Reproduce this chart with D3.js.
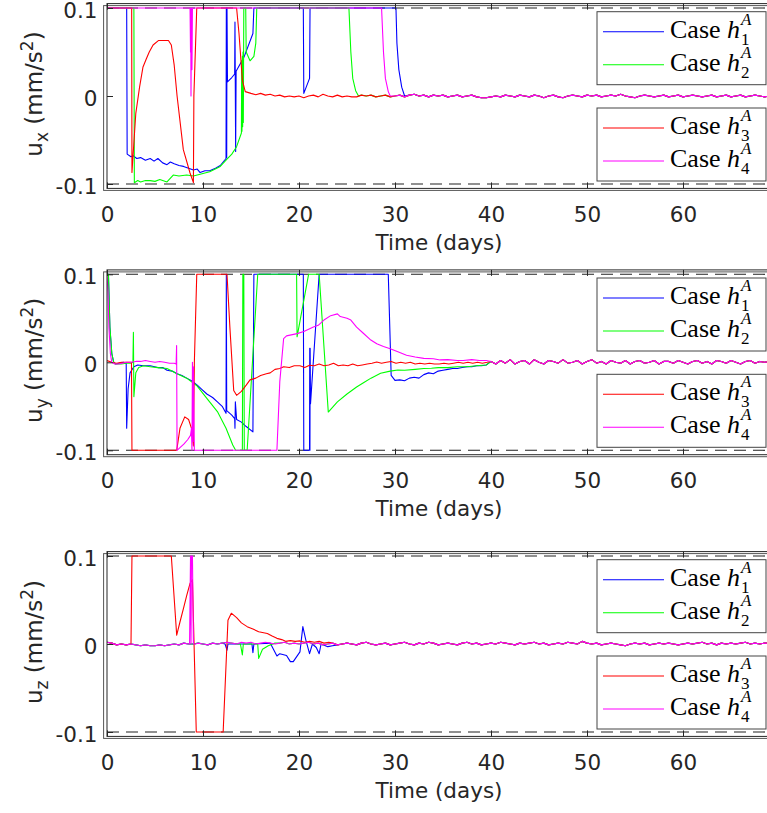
<!DOCTYPE html>
<html>
<head>
<meta charset="utf-8">
<script src="https://cdn.jsdelivr.net/npm/d3@7/dist/d3.min.js"></script>
<style>
body { margin: 0; background: #fff; }
svg { display: block; }
</style>
</head>
<body>
<div id="chart"></div>
<script>
// ---- data ----
var xTicks = [0, 10, 20, 30, 40, 50, 60];
var yTicks = [-0.1, 0, 0.1];
var yTickLabels = ["-0.1", "0", "0.1"];
var caseIndex = ["1", "2", "3", "4"];
var caseColors = ["#0000ff", "#00ff00", "#ff0000", "#ff00ff"];
var axisNames = ["x", "y", "z"];

// u_x : own part of each case, then the common converged tail
var uxBlue = [[0,0.1],[2.05,0.1],[2.1,-0.066],[2.5,-0.069],[2.75,-0.068],[3.1,-0.071],[3.5,-0.070],[4.0,-0.073],[4.5,-0.071],[4.9,-0.074],[5.3,-0.071],[5.8,-0.076],[6.25,-0.078],[6.6,-0.075],[7.0,-0.077],[7.5,-0.079],[7.97,-0.080],[8.5,-0.082],[9.0,-0.084],[9.4,-0.083],[9.7,-0.087],[10.2,-0.085],[10.7,-0.085],[11.3,-0.082],[11.8,-0.079],[12.4,-0.071],[12.43,0.1],[12.47,-0.07],[12.5,0.1],[12.55,0.016],[13.0,0.021],[13.3,0.025],[13.33,0.084],[13.4,-0.063],[13.45,0.028],[14.3,0.045],[15.2,0.071],[15.3,0.1],[20.45,0.1],[20.5,0.003],[21.1,0.02],[21.15,0.1],[30.1,0.1],[30.2,0.06],[30.4,0.03],[30.7,0.01],[31.0,0.0]];
var uxGreen = [[0,0.1],[2.8,0.1],[2.85,-0.0985],[3.2,-0.096],[3.5,-0.0977],[4.0,-0.096],[4.5,-0.0962],[5.0,-0.097],[5.5,-0.095],[6.25,-0.0977],[6.9,-0.0898],[7.5,-0.091],[8.3,-0.0898],[9.0,-0.091],[9.7,-0.089],[10.7,-0.086],[11.8,-0.080],[12.4,-0.073],[13.0,-0.066],[13.5,-0.0576],[14.0,-0.042],[14.03,0.04],[14.06,-0.04],[14.1,0.045],[14.13,-0.035],[14.17,0.05],[14.2,-0.03],[14.25,0.1],[14.45,0.1],[14.5,0.05],[14.9,0.04],[15.3,0.045],[15.5,0.06],[15.6,0.1],[25.2,0.1],[25.4,0.05],[25.6,0.02],[25.9,0.006],[26.2,0.0]];
var uxRed = [[0,0.1],[2.57,0.1],[2.6,-0.087],[3.0,-0.0197],[3.4,0.0106],[3.75,0.033],[4.1,0.0424],[4.4,0.050],[4.8,0.058],[5.35,0.063],[6.4,0.063],[6.7,0.058],[7.0,0.035],[7.3,0.0],[7.95,-0.061],[8.65,-0.0875],[9.0,-0.0985],[9.05,0.0],[9.35,0.1],[13.5,0.1],[13.75,0.071],[14.1,0.018],[14.4,0.005],[15.0,0.003],[15.5,0.0015],[16.0,0.003],[16.5,0.001],[17.0,0.002],[17.5,0.0],[18.0,0.001],[18.5,-0.001],[19.0,0.0],[19.5,-0.001],[20.0,0.0],[20.5,-0.002],[21.0,0.0],[21.5,0.001],[22.0,-0.001],[22.5,0.002],[23.0,0.0],[23.5,-0.001],[24.0,0.001],[24.5,-0.001],[25.0,0.0],[25.5,-0.001]];
var uxMagenta = [[0,0.1],[8.65,0.1],[8.7,0.05],[8.72,0.1],[8.75,0.0],[8.8,0.1],[8.85,0.03],[8.9,0.1],[28.6,0.1],[28.8,0.05],[29.0,0.02],[29.3,0.005],[29.5,0.0]];
// converged tail, every 0.5 day from day 26
var uxTail = [-0.001,0.001,0.000,0.001,-0.001,0.000,0.001,-0.001,0.000,0.001,-0.001,0.001,0.002,0.000,0.001,-0.001,0.001,0.000,0.001,-0.001,0.000,0.001,-0.001,0.000,0.001,-0.001,-0.002,-0.002,-0.001,0.000,-0.001,0.001,0.000,-0.001,0.001,0.000,-0.001,0.001,0.000,-0.002,0.000,0.001,-0.001,-0.002,0.000,0.001,0.000,-0.001,0.001,0.000,0.001,-0.001,0.000,0.001,0.000,0.002,0.000,-0.001,-0.002,0.000,0.001,0.000,-0.001,0.000,0.001,-0.001,0.000,0.001,-0.001,0.000,0.001,0.000,-0.001,0.000,0.001,-0.001,0.000,0.001,-0.001,0.000,0.001,-0.001,0.000,0.001,0.000,-0.001,0.000];

// u_y
var uyBlue = [[0,0.1],[0.15,0.1],[0.3,0.04],[0.5,0.01],[0.7,0.0],[0.9,-0.002],[1.3,-0.001],[1.7,0.0],[2.0,-0.001],[2.05,-0.075],[2.2,-0.03],[2.4,-0.012],[2.8,-0.005],[3.2,-0.003],[3.8,-0.004],[4.5,-0.004],[5.3,-0.006],[5.8,-0.006],[6.25,-0.009],[6.8,-0.010],[7.3,-0.013],[7.8,-0.015],[8.3,-0.018],[8.8,-0.021],[9.4,-0.026],[9.9,-0.031],[10.4,-0.036],[11.0,-0.040],[11.5,-0.045],[12.0,-0.050],[12.4,-0.058],[12.43,0.1],[12.47,-0.055],[13.0,-0.060],[13.3,-0.064],[13.33,-0.075],[13.37,-0.045],[13.5,-0.065],[14.0,-0.068],[14.5,-0.073],[15.2,-0.079],[15.3,0.1],[20.45,0.1],[20.5,-0.1],[21.1,-0.1],[21.12,0.016],[21.14,-0.1],[21.16,0.016],[21.2,-0.047],[22.1,0.1],[29.3,0.1],[29.6,-0.0148],[30.0,-0.0205],[30.5,-0.020],[31.0,-0.021],[31.5,-0.018],[32.0,-0.017],[32.5,-0.018],[33.0,-0.014],[33.5,-0.012],[34.0,-0.013],[34.5,-0.010],[35.0,-0.009],[35.5,-0.008],[36.0,-0.007],[36.5,-0.007],[37.0,-0.006],[37.5,-0.005],[38.0,-0.005],[38.5,-0.004],[39.0,-0.004],[39.5,-0.003]];
var uyGreen = [[0,0.1],[0.15,0.1],[0.3,0.04],[0.5,0.01],[0.7,0.0],[0.9,-0.002],[1.5,-0.002],[2.0,-0.001],[2.5,-0.001],[2.7,0.0],[2.75,0.034],[2.8,-0.039],[3.0,-0.012],[3.3,-0.006],[3.8,-0.004],[4.5,-0.005],[5.3,-0.006],[6.25,-0.007],[7.3,-0.013],[8.3,-0.018],[9.4,-0.027],[10.4,-0.041],[11.5,-0.056],[12.4,-0.075],[13.1,-0.094],[13.4,-0.1],[14.1,-0.1],[14.15,0.1],[14.25,0.1],[14.3,-0.1],[14.6,-0.1],[15.7,0.1],[19.75,0.1],[19.8,0.029],[21.0,0.1],[22.1,0.1],[23.05,-0.0565],[24.0,-0.045],[25.0,-0.036],[26.0,-0.028],[26.8,-0.0227],[27.5,-0.018],[28.5,-0.0125],[29.5,-0.010],[30.3,-0.0087],[31.0,-0.009],[32.1,-0.008],[33.0,-0.007],[33.8,-0.0068],[34.5,-0.006],[35.5,-0.006],[36.5,-0.005],[37.5,-0.005],[38.5,-0.004],[39.5,-0.003]];
var uyRed = [[0,0.002],[0.5,0.0],[1.0,-0.001],[1.5,0.0],[2.0,0.0],[2.55,0.0],[2.6,-0.1],[7.26,-0.1],[7.6,-0.075],[8.1,-0.062],[8.5,-0.065],[8.8,-0.075],[9.0,-0.095],[9.1,0.0],[9.35,0.1],[12.5,0.1],[12.8,0.04],[13.2,-0.032],[13.5,-0.0375],[14.0,-0.033],[14.5,-0.026],[14.9,-0.020],[15.5,-0.018],[16.0,-0.015],[16.6,-0.013],[17.0,-0.012],[17.5,-0.008],[18.0,-0.007],[18.4,-0.005],[19.0,-0.006],[19.5,-0.004],[20.1,-0.004],[20.6,-0.006],[21.1,-0.0034],[21.6,-0.004],[22.1,-0.002],[22.6,-0.004],[23.1,-0.003],[23.6,-0.001],[24.1,-0.004],[24.6,-0.003],[25.1,-0.004],[25.6,-0.002],[26.1,-0.004],[26.6,-0.003],[27.1,-0.002],[27.6,-0.001],[28.1,0.0004],[28.6,-0.001],[29.1,0.0],[29.6,0.001],[30.1,-0.001],[30.6,0.0],[31.1,-0.001],[31.6,0.0],[32.1,-0.002],[32.6,-0.001],[33.1,-0.002],[33.6,-0.001],[34.1,-0.002],[34.6,-0.002],[35.1,-0.001],[35.6,-0.002],[36.1,-0.001],[36.6,0.0],[37.1,-0.001],[37.6,0.0],[38.1,-0.001],[38.6,0.0],[39.1,-0.001],[39.6,0.0]];
var uyMagenta = [[0,0.1],[0.1,0.08],[0.2,0.04],[0.35,0.01],[0.5,0.0],[0.8,-0.002],[1.2,-0.002],[1.6,-0.001],[2.0,0.0],[2.5,0.0],[3.0,0.001],[3.5,0.001],[4.0,0.002],[4.5,0.001],[5.0,0.0],[5.5,0.001],[6.0,0.0],[6.5,-0.001],[7.0,-0.001],[7.2,-0.002],[7.25,0.019],[7.3,-0.1],[7.6,-0.097],[8.0,-0.093],[8.4,-0.088],[8.7,-0.083],[8.8,-0.075],[8.85,-0.1],[8.9,0.0],[8.95,-0.09],[9.0,-0.005],[9.1,-0.1],[17.7,-0.1],[18.0,-0.022],[18.4,0.027],[18.7,0.03],[19.8,0.0326],[20.5,0.035],[21.5,0.040],[22.0,0.042],[22.6,0.048],[23.3,0.053],[24.0,0.055],[24.3,0.052],[25.0,0.050],[25.4,0.048],[26.0,0.040],[26.7,0.033],[27.4,0.026],[28.1,0.021],[28.8,0.018],[29.5,0.0155],[30.3,0.012],[31.2,0.008],[32.1,0.006],[33.0,0.0045],[34.0,0.004],[34.7,0.0027],[35.5,0.003],[36.5,0.002],[37.1,0.002],[38.0,0.003],[38.8,0.002],[39.5,0.002]];
// converged tail, every 0.5 day from day 40
var uyTail = [0.001,-0.002,0.002,-0.001,0.003,-0.002,0.001,0.002,-0.002,0.003,0.000,-0.002,0.002,0.001,-0.001,0.003,-0.001,0.000,0.002,-0.002,0.001,0.003,-0.001,0.001,-0.002,0.002,0.000,-0.001,0.002,-0.002,0.001,0.002,-0.001,0.000,0.002,-0.002,0.001,0.001,-0.001,0.002,0.000,-0.002,0.001,0.002,-0.001,0.001,-0.002,0.002,0.001,-0.001,0.002,0.000,-0.002,0.001,0.002,-0.001,0.001,0.000,0.001,0.000];

// u_z : shared near-zero trace every 0.5 day from day 0, each case overrides a window
var uzBase = [0.002,0.001,-0.001,0.000,-0.001,0.000,-0.001,-0.002,-0.001,-0.002,-0.002,-0.001,-0.002,-0.001,0.000,-0.001,0.001,0.000,0.000,0.001,
  0.000,-0.001,0.001,0.000,0.001,0.002,0.001,0.000,0.002,0.001,0.002,0.000,0.001,0.002,0.001,0.000,0.001,0.002,0.000,0.001,
  0.000,0.001,0.002,0.000,0.001,-0.001,0.000,0.001,-0.001,0.000,0.001,0.000,-0.001,0.001,0.002,0.000,-0.001,0.000,0.001,-0.001,
  0.000,0.001,0.002,0.000,-0.001,0.001,0.000,0.002,0.001,-0.001,0.000,0.001,0.000,-0.001,0.001,0.002,0.000,0.001,-0.001,0.000,
  0.001,0.000,0.002,0.001,0.000,-0.001,0.001,0.000,0.001,0.002,0.000,0.001,-0.001,0.000,0.001,0.000,0.002,0.001,0.000,0.003,
  0.001,0.000,0.001,-0.001,0.000,0.001,0.000,-0.001,-0.002,0.000,0.001,0.000,0.001,-0.001,0.000,0.001,0.000,0.001,0.000,-0.001,
  0.000,0.001,0.000,0.001,0.002,0.000,0.001,-0.001,0.001,0.000,0.001,0.000,0.001,0.002,0.000,0.001,0.000,0.001,0.001];
var uzBlue = [[12.3,0.0],[12.5,-0.007],[12.6,0.0],[15.1,0.0],[15.2,-0.01],[15.3,0.0],[17.0,0.001],[17.7,-0.0136],[18.0,-0.011],[18.7,-0.013],[19.1,-0.020],[19.4,-0.020],[20.1,-0.009],[20.4,0.0197],[20.7,0.005],[21.1,-0.011],[21.4,0.0],[21.8,-0.004],[22.1,-0.011],[22.3,0.0],[23.0,-0.003],[23.5,-0.002]];
var uzGreen = [[13.9,0.0],[14.1,-0.0125],[14.2,0.0],[15.7,0.0],[15.8,-0.0163],[16.2,-0.006],[16.8,-0.002],[17.5,0.001]];
var uzRed = [[2.5,0.0],[2.6,0.1],[6.7,0.1],[7.26,0.010],[7.6,0.025],[8.0,0.042],[8.3,0.055],[8.65,0.069],[8.9,0.073],[9.3,-0.1],[12.1,-0.1],[12.6,0.027],[12.95,0.035],[13.5,0.030],[14.0,0.024],[14.6,0.0197],[15.2,0.017],[15.8,0.014],[16.7,0.012],[17.2,0.009],[17.7,0.0064],[18.2,0.005],[18.6,0.003],[19.1,0.0038],[19.6,0.003],[20.1,0.0035],[20.6,0.002],[21.1,0.003],[21.6,0.002],[22.1,0.003],[22.6,0.001],[23.1,0.002]];
var uzMagenta = [[8.6,0.0],[8.7,0.1],[8.75,0.0],[8.8,0.1],[8.9,0.1],[9.0,0.0],[9.2,0.0]];

// own points, then the shared trace after them
function withTail(own, tail, t0) {
    var end = own[own.length - 1][0];
    var pts = own.slice();
    tail.forEach(function(v, i) {
        var t = t0 + i * 0.5;
        if (t > end) pts.push([t, v]);
    });
    return pts;
}
// shared trace with a window replaced by own points
function withBase(own, base, t0) {
    var a = own[0][0], b = own[own.length - 1][0];
    var pts = [];
    base.forEach(function(v, i) {
        var t = t0 + i * 0.5;
        if (t < a || t > b) pts.push([t, v]);
    });
    return pts.concat(own).sort(function(p, q) { return p[0] - q[0]; });
}

var panels = [
    { zero: 96, series: [withTail(uxBlue, uxTail, 26), withTail(uxGreen, uxTail, 26), withTail(uxRed, uxTail, 26), withTail(uxMagenta, uxTail, 26)] },
    { zero: 362.3, series: [withTail(uyBlue, uyTail, 40), withTail(uyGreen, uyTail, 40), withTail(uyRed, uyTail, 40), withTail(uyMagenta, uyTail, 40)] },
    { zero: 644, series: [withBase(uzBlue, uzBase, 0), withBase(uzGreen, uzBase, 0), withBase(uzRed, uzBase, 0), withBase(uzMagenta, uzBase, 0)] }
];

// ---- layout ----
var svgWidth = 767;
var svgHeight = 813;
var x0 = 107, xRight = 767;

var svg = d3.select("#chart")
    .append("svg")
    .attr("width", svgWidth)
    .attr("height", svgHeight);

var xScale = d3.scaleLinear()
    .domain([0, 69])
    .range([x0, x0 + 69 * 9.6]);

var sansFont = "'DejaVu Sans', 'Liberation Sans', sans-serif";
var serifFont = "'Liberation Serif', 'Times New Roman', serif";
var axisColor = "#262626";

panels.forEach(function(p, pi) {
    var yScale = d3.scaleLinear()
        .domain([-0.1, 0.1])
        .range([p.zero + 88, p.zero - 88]);
    var top = yScale(0.105), bottom = yScale(-0.105);

    var g = svg.append("g");

    var clipId = "clip" + pi;
    svg.append("clipPath").attr("id", clipId)
        .append("rect")
        .attr("x", x0).attr("y", top)
        .attr("width", xRight - x0).attr("height", bottom - top);

    // second axes frame, slightly offset, as in the original
    g.append("rect")
        .attr("x", x0 - 3.4).attr("y", top + 2)
        .attr("width", xRight - x0 + 10).attr("height", bottom - top)
        .attr("fill", "none").attr("stroke", "#555").attr("stroke-width", 1);

    // limit lines
    [-0.1, 0.1].forEach(function(v) {
        g.append("line")
            .attr("x1", x0).attr("x2", xRight)
            .attr("y1", yScale(v)).attr("y2", yScale(v))
            .attr("stroke", "#222")
            .attr("stroke-width", 1.1)
            .attr("stroke-dasharray", "12,7");
    });

    var line = d3.line()
        .x(function(d) { return xScale(d[0]); })
        .y(function(d) { return yScale(d[1]); });

    g.append("g").attr("clip-path", "url(#" + clipId + ")")
        .selectAll("path")
        .data(p.series)
        .enter()
        .append("path")
        .attr("d", line)
        .attr("fill", "none")
        .attr("stroke", function(d, i) { return caseColors[i]; })
        .attr("stroke-width", 1.1)
        .attr("stroke-linejoin", "round");

    g.append("rect")
        .attr("x", x0).attr("y", top)
        .attr("width", xRight - x0 + 5).attr("height", bottom - top)
        .attr("fill", "none").attr("stroke", axisColor).attr("stroke-width", 1);

    // axes
    var bottomAxis = d3.axisBottom(xScale)
        .tickValues(xTicks)
        .tickSizeInner(-6).tickSizeOuter(0)
        .tickPadding(18)
        .tickFormat(d3.format("d"));
    var topAxis = d3.axisTop(xScale)
        .tickValues(xTicks)
        .tickSizeInner(-6).tickSizeOuter(0)
        .tickFormat("");
    var leftAxis = d3.axisLeft(yScale)
        .tickValues(yTicks)
        .tickSizeInner(-6).tickSizeOuter(0)
        .tickPadding(9.5)
        .tickFormat(function(d, i) { return yTickLabels[i]; });

    var bx = g.append("g").attr("transform", "translate(0," + bottom + ")").call(bottomAxis);
    var tx = g.append("g").attr("transform", "translate(0," + top + ")").call(topAxis);
    var ly = g.append("g").attr("transform", "translate(" + x0 + ",0)").call(leftAxis);
    [bx, tx, ly].forEach(function(a) {
        a.select(".domain").remove();
        a.selectAll(".tick line").attr("stroke", axisColor);
        a.selectAll(".tick text")
            .attr("fill", axisColor)
            .style("font-family", sansFont)
            .style("font-size", "21.5px");
    });
    ly.selectAll(".tick text").attr("dy", "0.42em");

    // x label
    g.append("text")
        .attr("x", 439)
        .attr("y", p.zero + 154)
        .attr("text-anchor", "middle")
        .style("font-family", sansFont)
        .style("font-size", "21.5px")
        .attr("fill", axisColor)
        .text("Time (days)");

    // y label
    var yl = g.append("text")
        .attr("transform", "translate(42," + (p.zero - 2) + ") rotate(-90)")
        .attr("text-anchor", "middle")
        .style("font-family", sansFont)
        .style("font-size", "23px")
        .attr("fill", axisColor);
    yl.append("tspan").text("u");
    yl.append("tspan").attr("dy", 6).style("font-size", "17px").text(axisNames[pi]);
    yl.append("tspan").attr("dy", -6).text(" (mm/s");
    yl.append("tspan").attr("dy", -9).style("font-size", "17px").text("2");
    yl.append("tspan").attr("dy", 9).text(")");

    // two legend boxes
    [[0, 1], [2, 3]].forEach(function(pair, bi) {
        var boxTop = bi === 0 ? p.zero - 84.3 : p.zero + 12;
        g.append("rect")
            .attr("x", 597).attr("y", boxTop)
            .attr("width", 169).attr("height", 73)
            .attr("fill", "#fff")
            .attr("stroke", "#444")
            .attr("stroke-width", 1);
        pair.forEach(function(si, k) {
            var ly0 = boxTop + 20 + k * 33;
            g.append("line")
                .attr("x1", 603).attr("x2", 664)
                .attr("y1", ly0).attr("y2", ly0)
                .attr("stroke", caseColors[si])
                .attr("stroke-width", 1.1);
            var t = g.append("text")
                .attr("x", 670).attr("y", ly0 + 6)
                .style("font-family", serifFont)
                .style("font-size", "26px")
                .attr("fill", "#000");
            t.append("tspan").text("Case ");
            t.append("tspan").style("font-style", "italic").text("h");
            var w = t.node().getComputedTextLength();
            g.append("text")
                .attr("x", 670 + w + 1).attr("y", ly0 + 13)
                .style("font-family", serifFont)
                .style("font-size", "17px")
                .text(caseIndex[si]);
            g.append("text")
                .attr("x", 670 + w + 1).attr("y", ly0 - 7)
                .style("font-family", serifFont)
                .style("font-size", "17px")
                .style("font-style", "italic")
                .text("A");
        });
    });
});
</script>
</body>
</html>
